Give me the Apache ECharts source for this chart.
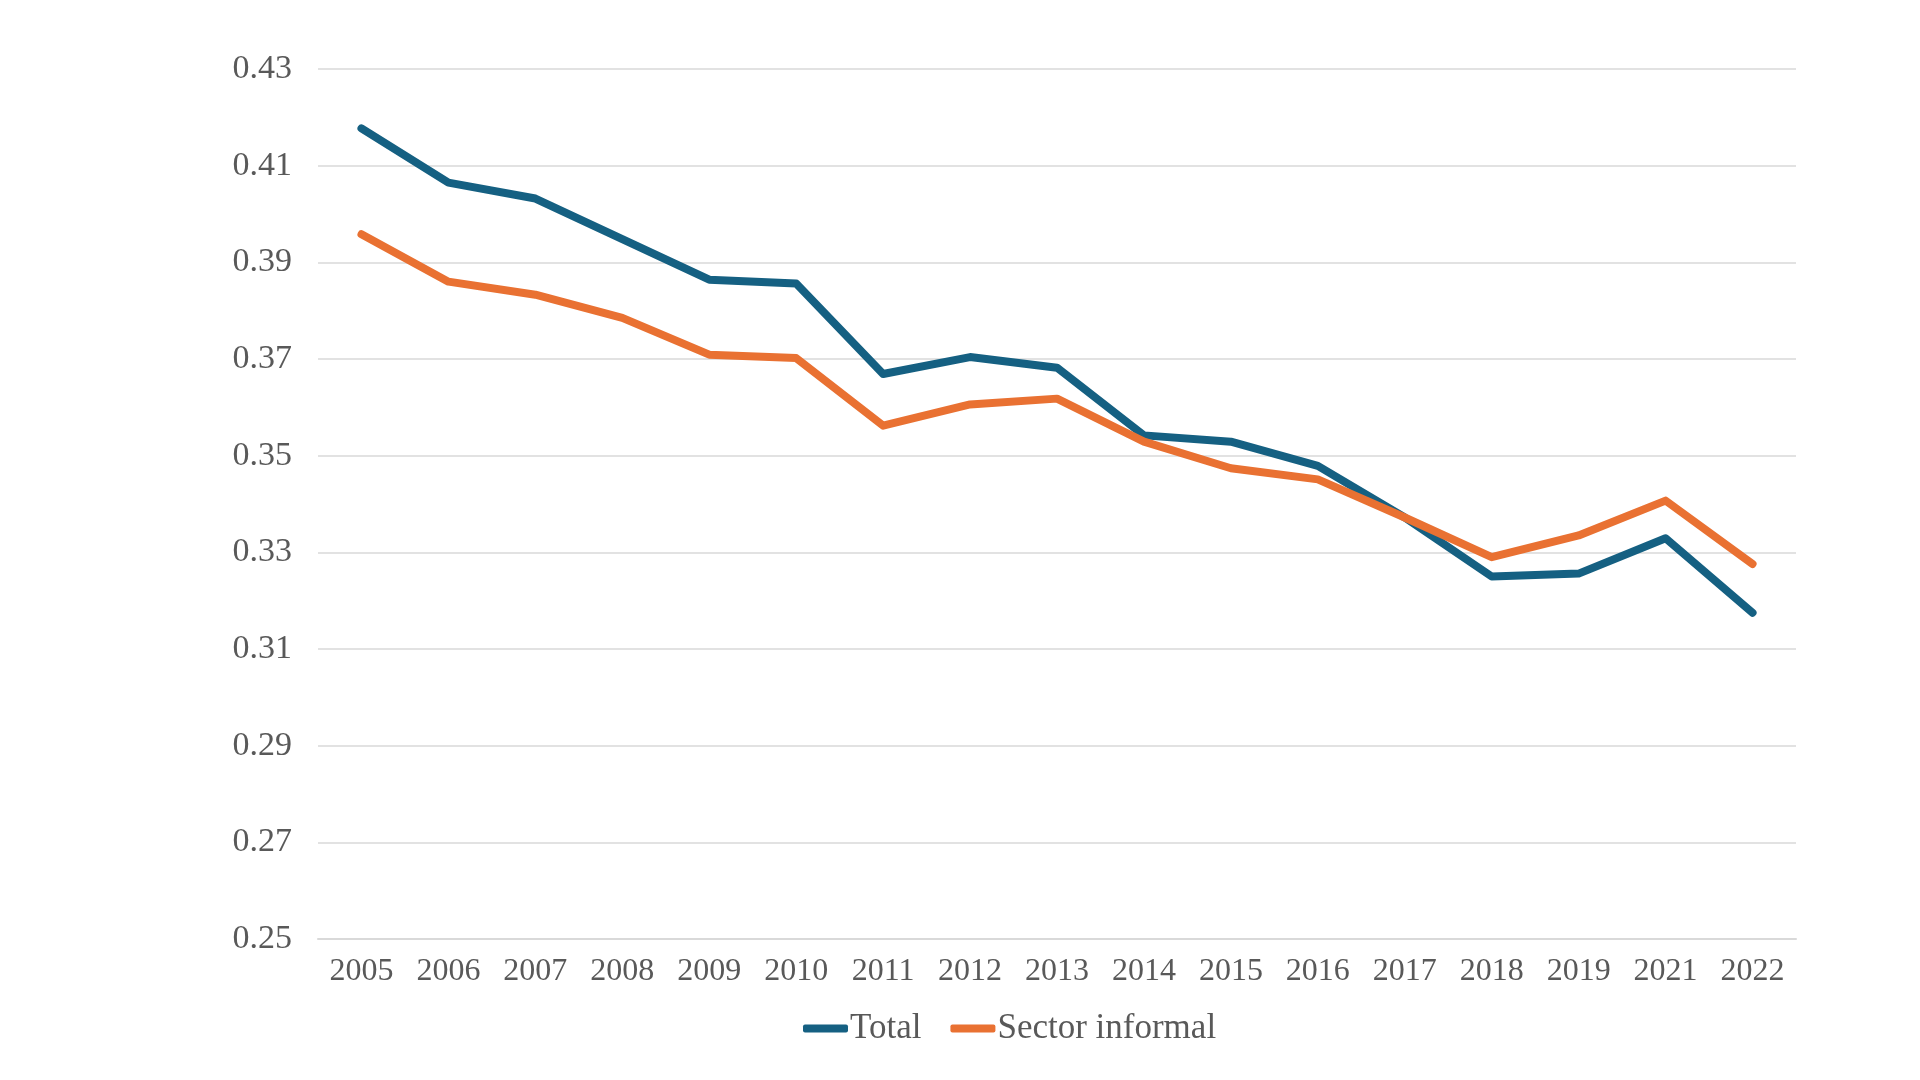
<!DOCTYPE html>
<html lang="es">
<head>
	<meta charset="utf-8">
	<title>Total vs Sector informal</title>
	<script src="https://cdn.jsdelivr.net/npm/echarts@6/dist/echarts.min.js"></script>
	<style>
		html, body { margin: 0; padding: 0; background: #fff; }
		#chart { width: 1920px; height: 1080px; }
	</style>
</head>
<body>
<div id="chart"></div>
<script>
    // datos
    var years = ['2005', '2006', '2007', '2008', '2009', '2010', '2011', '2012', '2013',
        '2014', '2015', '2016', '2017', '2018', '2019', '2021', '2022'];
    var total = [0.4177, 0.4065, 0.4032, 0.3948, 0.3864, 0.3856, 0.3669, 0.3704, 0.3682,
        0.3542, 0.3529, 0.3479, 0.3372, 0.3250, 0.3256, 0.3329, 0.3175];
    var informal = [0.3958, 0.3860, 0.3833, 0.3785, 0.3709, 0.3702, 0.3562, 0.3606, 0.3618,
        0.3529, 0.3474, 0.3451, 0.3372, 0.3290, 0.3335, 0.3407, 0.3276];

    var fontFam = '"Liberation Serif", "DejaVu Serif", serif';
    var myChart = echarts.init(document.getElementById('chart'));
    var option = {
        backgroundColor: '#ffffff',
        animation: false,
        grid: {
            left: 318,
            right: 124,
            top: 69,
            bottom: 141
        },
        legend: {
            left: 798,
            top: 1006,
            itemWidth: 45,
            itemHeight: 8,
            itemGap: 29,
            icon: 'roundRect',
            textStyle: {
                fontFamily: fontFam,
                fontSize: 35,
                color: '#595959',
                padding: [0, 0, 0, -3]
            },
            data: ['Total', 'Sector informal']
        },
        xAxis: {
            type: 'category',
            data: years,
            boundaryGap: true,
            axisLine: { show: true, lineStyle: { color: '#d9d9d9', width: 2 } },
            axisTick: { show: false },
            axisLabel: {
                fontFamily: fontFam,
                fontSize: 32,
                color: '#595959',
                margin: 17
            }
        },
        yAxis: {
            type: 'value',
            min: 0.25,
            max: 0.43,
            interval: 0.02,
            axisLine: { show: false },
            axisTick: { show: false },
            splitLine: { lineStyle: { color: '#d9d9d9', width: 1.5 } },
            axisLabel: {
                fontFamily: fontFam,
                fontSize: 34,
                color: '#595959',
                margin: 26,
                formatter: function (v) { return v.toFixed(2); }
            }
        },
        series: [{
            name: 'Total',
            type: 'line',
            data: total,
            symbol: 'none',
            color: '#156082',
            lineStyle: { width: 8, color: '#156082', cap: 'round', join: 'round' }
        }, {
            name: 'Sector informal',
            type: 'line',
            data: informal,
            symbol: 'none',
            color: '#E97132',
            lineStyle: { width: 8, color: '#E97132', cap: 'round', join: 'round' }
        }]
    };
    myChart.setOption(option);
</script>
</body>
</html>
